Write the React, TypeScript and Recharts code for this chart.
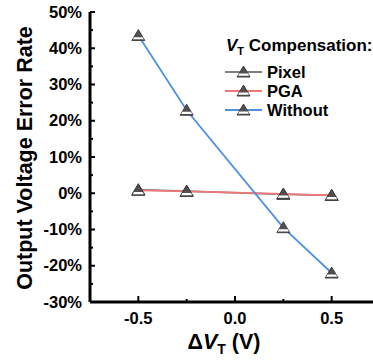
import { LineChart, Line, XAxis, YAxis } from 'recharts';

const deltaVt = [-0.5, -0.25, 0.25, 0.5];
const pixel = [1.0, 0.6, -0.3, -0.6];
const pga = [0.8, 0.5, -0.2, -0.6];
const without = [43.5, 22.9, -9.5, -22.0];

const xTicks = [-0.5, -0.25, 0, 0.25, 0.5];
const xLabels = ['-0.5', '0.0', '0.5'];
const yTicks = [-30, -25, -20, -15, -10, -5, 0, 5, 10, 15, 20, 25, 30, 35, 40, 45, 50];

const seriesMeta = [
    { key: 'pixel', name: 'Pixel', color: '#7f7f7f' },
    { key: 'pga', name: 'PGA', color: '#f07878' },
    { key: 'without', name: 'Without', color: '#4f8fdf' },
];

const data = deltaVt.map((x, i) => ({ x, pixel: pixel[i], pga: pga[i], without: without[i] }));

const FONT = '"Liberation Sans", Arial, sans-serif';

function Marker({ cx, cy }: { cx?: number; cy?: number }) {
    if (cx == null || cy == null) return null;
    return (
        <g>
            <polygon points={`${cx},${cy - 6} ${cx + 6.5},${cy + 5} ${cx - 6.5},${cy + 5}`} fill="#505050" stroke="#404040" strokeWidth={1} />
            <polygon points={`${cx - 4.3},${cy + 1.6} ${cx + 4.3},${cy + 1.6} ${cx + 5.5},${cy + 3.8} ${cx - 5.5},${cy + 3.8}`} fill="#fff" />
        </g>
    );
}

function YTick({ y, payload }: any) {
    const v = payload.value;
    const major = v % 10 === 0;
    return (
        <g>
            <line x1={90} x2={major ? 95 : 93} y1={y} y2={y} stroke="#000" strokeWidth={2} />
            {major && (
                <text x={82} y={y} dy={5.5} textAnchor="end" fontFamily={FONT} fontWeight="bold" fontSize={16.5} fill="#000">
                    {v}%
                </text>
            )}
        </g>
    );
}

function XTick({ x, payload }: any) {
    const v = payload.value;
    const major = Math.abs(v * 2 - Math.round(v * 2)) < 1e-6;
    const label = v === 0 ? '0.0' : v.toFixed(1);
    return (
        <g>
            <line x1={x} x2={x} y1={302} y2={major ? 296 : 299} stroke="#000" strokeWidth={2} />
            {major && xLabels.includes(label) && (
                <text x={x} y={324} textAnchor="middle" fontFamily={FONT} fontWeight="bold" fontSize={16.5} fill="#000">
                    {label}
                </text>
            )}
        </g>
    );
}

function YTitle() {
    return (
        <text x={32} y={158} transform="rotate(-90, 32, 158)" textAnchor="middle" fontFamily={FONT} fontWeight="bold" fontSize={21.5} fill="#000">
            Output Voltage Error Rate
        </text>
    );
}

function XTitle() {
    return (
        <text x={224} y={349} textAnchor="middle" fontFamily={FONT} fontWeight="bold" fontSize={21.5} fill="#000">
            <tspan>Δ</tspan>
            <tspan fontStyle="italic">V</tspan>
            <tspan fontSize={14} dy={5}>T</tspan>
            <tspan dy={-5}> (V)</tspan>
        </text>
    );
}

function LegendBox() {
    return (
        <svg width={150} height={110} style={{ position: 'absolute', left: 224, top: 15, fontFamily: FONT }}>
            <text x={2} y={36} fontWeight="bold" fontSize={17} fill="#000">
                <tspan fontStyle="italic">V</tspan>
                <tspan fontSize={11} dy={4}>T</tspan>
                <tspan dy={-4}> Compensation:</tspan>
            </text>
            {seriesMeta.map((s, i) => {
                const yy = 57 + i * 19;
                return (
                    <g key={s.key}>
                        <line x1={1} x2={38} y1={yy} y2={yy} stroke={s.color} strokeWidth={2} />
                        <Marker cx={19.5} cy={yy} />
                        <text x={43} y={yy + 6} fontWeight="bold" fontSize={16.5} fill="#000">
                            {s.name}
                        </text>
                    </g>
                );
            })}
        </svg>
    );
}

export default function App() {
    return (
        <div style={{ position: 'absolute', left: 0, top: 0, width: 373, height: 360, overflow: 'hidden', background: '#fff' }}>
            <LineChart width={380} height={360} data={data} margin={{ top: 12, right: 0, bottom: 0, left: 0 }}>
                <XAxis
                    dataKey="x"
                    type="number"
                    domain={[-0.75, 0.75]}
                    ticks={xTicks}
                    tick={<XTick />}
                    tickLine={false}
                    axisLine={{ stroke: '#000', strokeWidth: 3 }}
                    height={58}
                    interval={0}
                    label={<XTitle />}
                />
                <YAxis
                    type="number"
                    domain={[-30, 50]}
                    ticks={yTicks}
                    tick={<YTick />}
                    tickLine={false}
                    axisLine={{ stroke: '#000', strokeWidth: 3 }}
                    width={90}
                    interval={0}
                    label={<YTitle />}
                />
                {seriesMeta.map((s) => (
                    <Line
                        key={s.key}
                        dataKey={s.key}
                        name={s.name}
                        stroke={s.color}
                        strokeWidth={1.8}
                        dot={<Marker />}
                        activeDot={false}
                        isAnimationActive={false}
                    />
                ))}
            </LineChart>
            <LegendBox />
        </div>
    );
}
